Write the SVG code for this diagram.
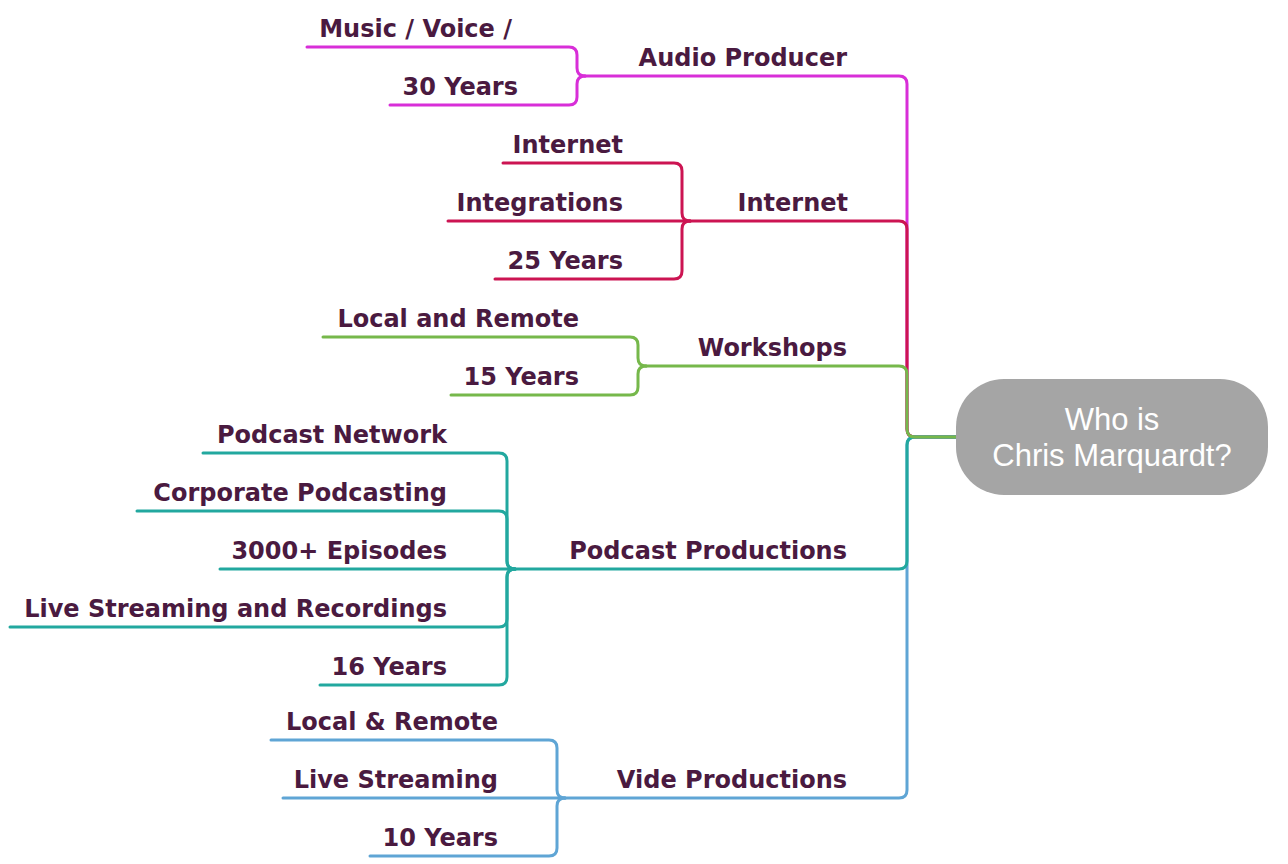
<svg xmlns="http://www.w3.org/2000/svg" width="1288" height="864" viewBox="0 0 1288 864">
<style>
.c{fill:none;stroke-width:3;stroke-linecap:round;stroke-linejoin:round}
.au{stroke:#d82ed8}
.in{stroke:#cc1452}
.ws{stroke:#76b84b}
.pc{stroke:#22a89f}
.vp{stroke:#5fa5d5}
.t{font-family:"DejaVu Sans",Verdana,sans-serif;font-weight:bold;font-size:24px;fill:#4a1a40;text-anchor:end}
.ct{font-family:"Liberation Sans",Arial,sans-serif;font-size:31px;fill:#ffffff;text-anchor:middle}
</style>
<rect width="1288" height="864" fill="#ffffff"/>
<g id="connectors">
<path class="c au" d="M956,437 H915 Q907,437 907,429 V84 Q907,76 899,76 H585"/>
<path class="c in" d="M956,437 H915 Q907,437 907,429 V229 Q907,221 899,221 H690"/>
<path class="c vp" d="M956,437 H915 Q907,437 907,445 V790 Q907,798 899,798 H565"/>
<path class="c pc" d="M956,437 H915 Q907,437 907,445 V561 Q907,569 899,569 H515"/>
<path class="c ws" d="M956,437 H915 Q907,437 907,429 V374 Q907,366 899,366 H646"/>
<path class="c au" d="M585,76 Q577,76 577,68 V55 Q577,47 569,47 H307"/>
<path class="c au" d="M585,76 Q577,76 577,84 V97 Q577,105 569,105 H390"/>
<path class="c in" d="M690,221 Q682,221 682,213 V171 Q682,163 674,163 H503"/>
<path class="c in" d="M690,221 H448"/>
<path class="c in" d="M690,221 Q682,221 682,229 V271 Q682,279 674,279 H495"/>
<path class="c ws" d="M646,366 Q638,366 638,358 V345 Q638,337 630,337 H323"/>
<path class="c ws" d="M646,366 Q638,366 638,374 V387 Q638,395 630,395 H451"/>
<path class="c pc" d="M515,569 Q507,569 507,561 V461 Q507,453 499,453 H203"/>
<path class="c pc" d="M515,569 Q507,569 507,561 V519 Q507,511 499,511 H137"/>
<path class="c pc" d="M515,569 H220"/>
<path class="c pc" d="M515,569 Q507,569 507,577 V619 Q507,627 499,627 H10"/>
<path class="c pc" d="M515,569 Q507,569 507,577 V677 Q507,685 499,685 H320"/>
<path class="c vp" d="M565,798 Q557,798 557,790 V748 Q557,740 549,740 H271"/>
<path class="c vp" d="M565,798 H283"/>
<path class="c vp" d="M565,798 Q557,798 557,806 V848 Q557,856 549,856 H370"/>
</g>
<g id="center">
<rect x="956" y="379" width="312" height="116" rx="48" fill="#a5a5a5"/>
<text class="ct" x="1112" y="430">Who is</text>
<text class="ct" x="1112" y="466">Chris Marquardt?</text>
</g>
<g id="audio-producer"><text class="t" x="847" y="66">Audio Producer</text></g>
<g id="music-voice"><text class="t" x="512" y="37">Music / Voice /</text></g>
<g id="audio-30-years"><text class="t" x="518" y="95">30 Years</text></g>
<g id="internet"><text class="t" x="848" y="211">Internet</text></g>
<g id="internet-child"><text class="t" x="623" y="153">Internet</text></g>
<g id="integrations"><text class="t" x="623" y="211">Integrations</text></g>
<g id="internet-25-years"><text class="t" x="623" y="269">25 Years</text></g>
<g id="workshops"><text class="t" x="847" y="356">Workshops</text></g>
<g id="local-and-remote"><text class="t" x="579" y="327">Local and Remote</text></g>
<g id="workshops-15-years"><text class="t" x="579" y="385">15 Years</text></g>
<g id="podcast-productions"><text class="t" x="847" y="559">Podcast Productions</text></g>
<g id="podcast-network"><text class="t" x="447" y="443">Podcast Network</text></g>
<g id="corporate-podcasting"><text class="t" x="447" y="501">Corporate Podcasting</text></g>
<g id="episodes"><text class="t" x="447" y="559">3000+ Episodes</text></g>
<g id="live-streaming-recordings"><text class="t" x="447" y="617">Live Streaming and Recordings</text></g>
<g id="podcast-16-years"><text class="t" x="447" y="675">16 Years</text></g>
<g id="vide-productions"><text class="t" x="847" y="788">Vide Productions</text></g>
<g id="local-remote"><text class="t" x="498" y="730">Local &amp; Remote</text></g>
<g id="live-streaming"><text class="t" x="498" y="788">Live Streaming</text></g>
<g id="vide-10-years"><text class="t" x="498" y="846">10 Years</text></g>
</svg>
